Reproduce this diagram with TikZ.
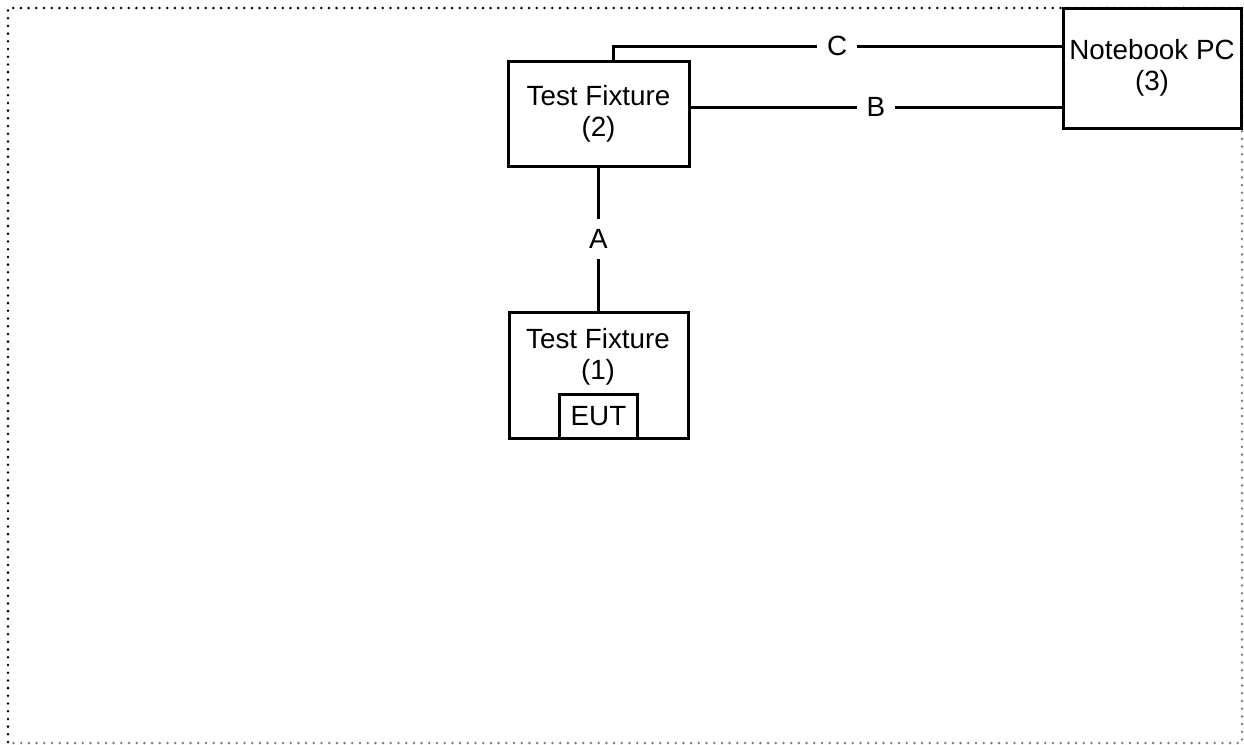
\documentclass[tikz,border=0pt]{standalone}
\usepackage{fontspec}
\setmainfont{Liberation Sans}
\usetikzlibrary{positioning}
\tikzset{
    box/.style={
                draw=black,
                line width=1.5pt,
                text centered,
                align=center,
                inner sep=0pt,
                font=\fontsize{13.9}{15.5}\selectfont
            },
        boxtext/.style={
                align=center,
                inner sep=0pt,
                font=\fontsize{13.9}{15.5}\selectfont
            },
        link/.style={
                draw=black,
                line width=1.5pt
            },
        tag/.style={
                fill=white,
                inner sep=5pt,
                font=\fontsize{13.9}{15.5}\selectfont
            },
        frame/.style={
                line width=1.4pt,
                line cap=round,
                dash pattern=on 0pt off 3.85pt
            },
}

\begin{document}
\begin{tikzpicture}[x=0.5pt, y=-0.5pt]
  \useasboundingbox (0,0) rectangle (1244,745);
  % Frame
  \draw[frame] (8,742) -- (8,8) -- (1242,8);
  \draw[frame, gray] (1242,8) -- (1242,743) -- (8,743);
  % Fixtures
  \node[box, minimum width=90.5pt, minimum height=52.5pt] (fix2) at (598.5,113.5) {Test Fixture\\(2)};
  \node[box, minimum width=89.5pt, minimum height=63pt, below=71.5pt of fix2] (fix1) {};
  \node[boxtext] (fix1text) at (598,356.5) {Test Fixture\\(1)};
  \node[box, minimum width=39pt, minimum height=22pt, anchor=south] (eut) at (fix1.south) {EUT};
  % Notebook
  \node[box, minimum width=89pt, minimum height=60pt] (pc) at (1152,68) {Notebook PC\\(3)};
  % Cables
  \draw[link] (fix2.south) -- node[tag] {A} (fix1.north);
  \draw[link] ([yshift=3.25pt]fix2.east) -- node[tag] {B} ([yshift=3.25pt]fix2.east -| pc.west);
  \draw[link] ([xshift=7.25pt]fix2.north) |- node[tag, pos=0.75] {C} (pc.west |- 0,46);
\end{tikzpicture}
\end{document}
